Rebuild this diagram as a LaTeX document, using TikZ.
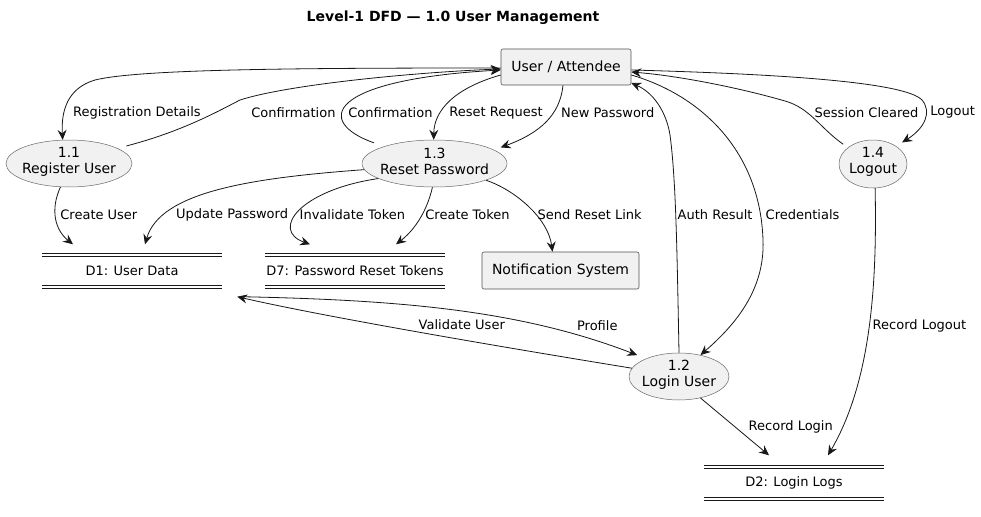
\documentclass[tikz,border=0pt]{standalone}
\usepackage{fontspec}
\setmainfont{DejaVu Sans}
\usetikzlibrary{arrows.meta,shapes.geometric}
\definecolor{boxfill}{HTML}{F1F1F1}
\definecolor{ink}{HTML}{181818}
\begin{document}
\begin{tikzpicture}[x=1pt,y=1pt,
  ent/.style={rectangle, rounded corners=2pt, draw=ink!75, line width=0.6pt, fill=boxfill, inner sep=0pt, font=\fontsize{14}{17}\selectfont},
  proc/.style={ellipse, draw=ink!65, line width=0.5pt, fill=boxfill, inner sep=0pt},
  ptext/.style={align=center, font=\fontsize{14}{16}\selectfont, inner sep=0pt, yshift=2pt},
  store/.style={rectangle, inner sep=0pt, minimum width=180pt, minimum height=31pt, font=\fontsize{13}{15}\selectfont},
  storeline/.style={draw=ink, line width=1pt},
  flow/.style={draw=ink, line width=0.8pt, -{Stealth[length=10pt,width=9pt,inset=3.5pt]}},
  lbl/.style={anchor=west, inner sep=0pt, font=\fontsize{13}{15}\selectfont, text=black}
]
\useasboundingbox (0,0) rectangle (981,-516);
\fill[white] (0,0) rectangle (981,-516);

\node[font=\bfseries\fontsize{14}{17}\selectfont] (title) at (453,-18) {Level-1 DFD — 1.0 User Management};

\node[ent, minimum width=130pt, minimum height=36pt] (u) at (566,-67) {User / Attendee};
\node[proc, minimum width=126pt, minimum height=47pt, label={[ptext]center:{1.1\\Register User}}] (p11) at (69,-163.5) {};
\node[proc, minimum width=145pt, minimum height=47pt, label={[ptext]center:{1.3\\Reset Password}}] (p13) at (434.5,-163.5) {};
\node[proc, minimum width=68pt, minimum height=48pt, label={[ptext]center:{1.4\\Logout}}] (p14) at (873,-164) {};
\node[proc, minimum width=100pt, minimum height=47pt, label={[ptext]center:{1.2\\Login User}}] (p12) at (679,-376.5) {};
\node[ent, minimum width=157pt, minimum height=37pt] (ns) at (560.5,-270.5) {Notification System};
\node[store] (d1) at (132,-271) {D1: User Data};
\node[store] (d7) at (355,-271) {D7: Password Reset Tokens};
\node[store] (d2) at (794,-483) {D2: Login Logs};

\foreach \s in {d1,d7,d2}{
  \draw[storeline] ([yshift=1.35pt]\s.north west) -- ([yshift=1.35pt]\s.north east)
                   ([yshift=-1.35pt]\s.north west) -- ([yshift=-1.35pt]\s.north east)
                   ([yshift=1.35pt]\s.south west) -- ([yshift=1.35pt]\s.south east)
                   ([yshift=-1.35pt]\s.south west) -- ([yshift=-1.35pt]\s.south east);
}

% flows
\draw[flow] ([yshift=-1pt]u.west) .. controls (300,-68) and (140,-69) .. (95,-80) .. controls (68,-88) and (61,-110) .. (p11.105)
  node[lbl] at (72.7,-112.7) {Registration Details};
\draw[flow] ([xshift=12pt,yshift=1pt]p11.20) .. controls (180,-132) and (215,-113) .. (240,-100) .. controls (290,-84) and (420,-72) .. ([yshift=-2pt]u.west)
  node[lbl] at (251,-112.7) {Confirmation};
\draw[flow] ([xshift=-12pt,yshift=3pt]p13.160) .. controls (315,-122) and (325,-80) .. ([yshift=-3pt]u.west)
  node[lbl] at (348,-112.7) {Confirmation};
\draw[flow] ([yshift=-8pt]u.west) .. controls (455,-88) and (434,-110) .. (p13.92)
  node[lbl] at (449,-112.7) {Reset Request};
\draw[flow] ([xshift=-3pt]u.south) .. controls (560,-115) and (540,-133) .. ([xshift=10pt,yshift=1pt]p13.15)
  node[lbl] at (560.7,-112.3) {New Password};
\draw[flow] (p11.250) .. controls (50,-210) and (55,-230) .. ([xshift=-59pt,yshift=11pt]d1.north)
  node[lbl] at (60,-215) {Create User};
\draw[flow] (p13.185) .. controls (250,-178) and (160,-192) .. ([xshift=13pt,yshift=11pt]d1.north)
  node[lbl] at (175.7,-215) {Update Password};
\draw[flow] (p13.195) .. controls (300,-190) and (270,-230) .. ([xshift=-45pt,yshift=11pt]d7.north)
  node[lbl] at (299.3,-215) {Invalidate Token};
\draw[flow] (p13.265) .. controls (426,-215) and (412,-232) .. ([xshift=41pt,yshift=11pt]d7.north)
  node[lbl] at (425,-215) {Create Token};
\draw[flow] (p13.342) .. controls (515,-190) and (548,-218) .. ([xshift=-8pt]ns.north)
  node[lbl] at (537.3,-215) {Send Reset Link};
\draw[flow] (p12.90) .. controls (677,-250) and (676,-180) .. (670,-135) .. controls (666,-110) and (652,-92) .. ([yshift=-16pt]u.east)
  node[lbl] at (677.3,-215) {Auth Result};
\draw[flow] ([yshift=-8pt]u.east) .. controls (700,-95) and (760,-150) .. (763,-240) .. controls (765,-290) and (735,-325) .. (p12.45)
  node[lbl] at (765.3,-215) {Credentials};
\draw[flow] ([xshift=-5pt,yshift=3pt]p14.146) .. controls (820,-128) and (810,-108) .. (785,-101) .. controls (740,-88) and (680,-76) .. ([yshift=-5pt]u.east)
  node[lbl] at (814.3,-112.3) {Session Cleared};
\draw[flow] ([yshift=-3pt]u.east) .. controls (780,-74) and (905,-82) .. (922,-100) .. controls (932,-112) and (925,-128) .. ([xshift=7pt,yshift=3pt]p14.40)
  node[lbl] at (930,-112.3) {Logout};
\draw[flow] (p14.275) .. controls (877,-280) and (872,-380) .. ([xshift=34pt,yshift=12pt]d2.north)
  node[lbl] at (872.3,-325.7) {Record Logout};
\draw[flow] (p12.315) -- ([xshift=-25pt,yshift=12pt]d2.north)
  node[lbl] at (748.3,-427.3) {Record Login};
\draw[flow] (p12.170) .. controls (520,-350) and (330,-318) .. ([xshift=15pt,yshift=-10pt]d1.south east)
  node[lbl] at (418.3,-325) {Validate User};
\draw[flow] ([xshift=19pt,yshift=-10pt]d1.south east) .. controls (400,-300) and (520,-310) .. ([xshift=-10pt,yshift=3pt]p12.150)
  node[lbl] at (576.7,-325.7) {Profile};
\end{tikzpicture}
\end{document}
